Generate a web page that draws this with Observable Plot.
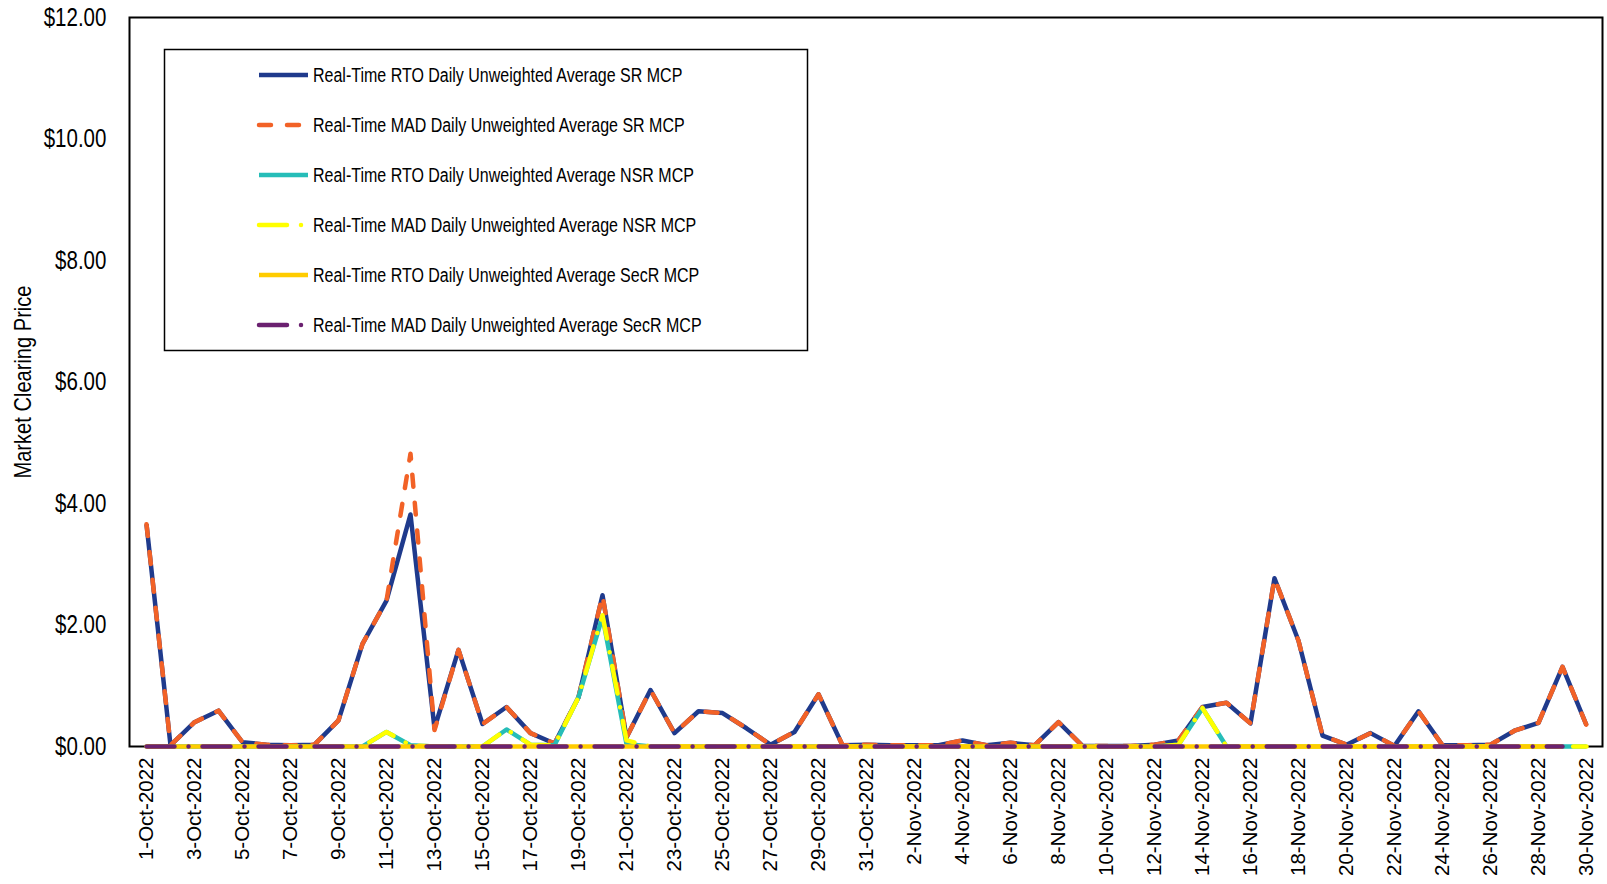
<!DOCTYPE html>
<html><head><meta charset="utf-8">
<script src="https://cdn.jsdelivr.net/npm/d3@7"></script>
<script src="https://cdn.jsdelivr.net/npm/@observablehq/plot@0.6"></script>
<style>
body{margin:0;background:#fff;}
#wrap{position:relative;width:1607px;height:884px;overflow:hidden;background:#fff;}
#overlay{position:absolute;left:0;top:0;pointer-events:none;}
</style></head><body><div id="wrap"></div>
<script>
const REG = '"Liberation Sans",Arial,sans-serif';
const NARROW_SCALE = 0.82;

const dates = [
"1-Oct-2022","2-Oct-2022","3-Oct-2022","4-Oct-2022","5-Oct-2022","6-Oct-2022","7-Oct-2022","8-Oct-2022","9-Oct-2022","10-Oct-2022",
"11-Oct-2022","12-Oct-2022","13-Oct-2022","14-Oct-2022","15-Oct-2022","16-Oct-2022","17-Oct-2022","18-Oct-2022","19-Oct-2022","20-Oct-2022",
"21-Oct-2022","22-Oct-2022","23-Oct-2022","24-Oct-2022","25-Oct-2022","26-Oct-2022","27-Oct-2022","28-Oct-2022","29-Oct-2022","30-Oct-2022",
"31-Oct-2022","1-Nov-2022","2-Nov-2022","3-Nov-2022","4-Nov-2022","5-Nov-2022","6-Nov-2022","7-Nov-2022","8-Nov-2022","9-Nov-2022",
"10-Nov-2022","11-Nov-2022","12-Nov-2022","13-Nov-2022","14-Nov-2022","15-Nov-2022","16-Nov-2022","17-Nov-2022","18-Nov-2022","19-Nov-2022",
"20-Nov-2022","21-Nov-2022","22-Nov-2022","23-Nov-2022","24-Nov-2022","25-Nov-2022","26-Nov-2022","27-Nov-2022","28-Nov-2022","29-Nov-2022",
"30-Nov-2022"];

const rtoSR = [3.66,0.02,0.40,0.59,0.07,0.03,0.02,0.03,0.43,1.69,
2.40,3.82,0.30,1.59,0.37,0.65,0.22,0.05,0.81,2.49,
0.15,0.93,0.22,0.58,0.55,0.30,0.03,0.24,0.86,0.02,
0.03,0.02,0.02,0.02,0.10,0.02,0.06,0.02,0.40,0.01,
0.01,0.01,0.03,0.10,0.65,0.72,0.38,2.77,1.74,0.18,
0.03,0.22,0.01,0.58,0.02,0.02,0.03,0.26,0.39,1.31,
0.35];

const madSR = [3.66,0.02,0.40,0.59,0.07,0.03,0.02,0.03,0.43,1.69,
2.40,4.82,0.27,1.59,0.37,0.65,0.22,0.05,0.81,2.49,
0.15,0.93,0.22,0.58,0.55,0.30,0.03,0.24,0.86,0.02,
0.03,0.02,0.02,0.02,0.10,0.02,0.06,0.02,0.40,0.01,
0.01,0.01,0.03,0.10,0.65,0.72,0.38,2.77,1.74,0.18,
0.03,0.22,0.01,0.58,0.02,0.02,0.03,0.26,0.39,1.31,
0.35];

const rtoNSR = [0,0,0,0,0,0,0,0,0,0,
0.24,0.02,0,0,0,0.28,0.03,0.02,0.81,2.14,
0.04,0,0,0,0,0,0,0,0,0,
0,0,0,0,0,0,0,0,0,0,
0,0,0,0.03,0.63,0,0,0,0,0,
0,0,0,0,0,0,0,0,0,0,
0];

const madNSR = [0,0,0,0,0,0,0,0,0,0,
0.24,0.02,0,0,0,0.28,0.03,0.02,0.81,2.16,
0.10,0,0,0,0,0,0,0,0,0,
0,0,0,0,0,0,0,0,0,0,
0,0,0,0.03,0.63,0,0,0,0,0,
0,0,0,0,0,0,0,0,0,0,
0];

const rtoSecR = [0,0,0,0,0,0,0,0,0,0,
0,0,0,0,0,0,0,0,0,0,
0,0,0,0,0,0,0,0,0,0,
0,0,0,0,0,0,0,0,0,0,
0,0,0,0,0,0,0,0,0,0,
0,0,0,0,0,0,0,0,0,0,
null];

const madSecR = [0,0,0,0,0,0,0,0,0,0,
0,0,0,0,0,0,0,0,0,0,
0,0,0,0,0,0,0,0,0,0,
0,0,0,0,0,0,0,0,0,0,
0,0,0,0,0,0,0,0,0,0,
0,0,0,0,0,0,0,0,0,0,
null];

const yTicks = [0,2,4,6,8,10,12];
const xTickLabels = dates.filter((d,i)=>i%2===0);

const series = [
 {name:"Real-Time RTO Daily Unweighted Average SR MCP", values:rtoSR, color:"#1F3A8C", dash:null},
 {name:"Real-Time MAD Daily Unweighted Average SR MCP", values:madSR, color:"#F26227", dash:"12,16"},
 {name:"Real-Time RTO Daily Unweighted Average NSR MCP", values:rtoNSR, color:"#26BDB8", dash:null},
 {name:"Real-Time MAD Daily Unweighted Average NSR MCP", values:madNSR, color:"#FFFF00", dash:"28,14,0.01,14"},
 {name:"Real-Time RTO Daily Unweighted Average SecR MCP", values:rtoSecR, color:"#FFCC00", dash:null},
 {name:"Real-Time MAD Daily Unweighted Average SecR MCP", values:madSecR, color:"#6B2170", dash:"28,14,0.01,14"}
];

const plot = Plot.plot({
  width:1607, height:884,
  marginLeft:129, marginRight:5, marginTop:17, marginBottom:138,
  style:{background:"#fff", color:"#000", fontFamily:REG},
  x:{type:"point", domain:dates, padding:0.5},
  y:{domain:[0,12]},
  marks:[
    Plot.axisY({ticks:yTicks, tickFormat:d=>"$"+d.toFixed(2), tickSize:0, tickPadding:23, label:null}),
    Plot.axisX({ticks:xTickLabels, tickSize:0, tickPadding:11, tickRotate:-90, label:null}),
    Plot.frame({stroke:"#000", strokeWidth:2}),
    ...series.map(s => Plot.line(dates.map((d,i)=>({d, v:s.values[i]})), {
      x:"d", y:"v", stroke:s.color, strokeWidth:4.5,
      strokeDasharray:s.dash || undefined,
      strokeLinecap:s.dash ? "round" : "butt", strokeLinejoin:"round"
    }))
  ]
});

const wrap = document.getElementById("wrap");
wrap.append(plot);

// y tick labels: Arial-Narrow-like (horizontally condensed Liberation Sans)
const yg = d3.select(plot).select('g[aria-label="y-axis tick label"]');
yg.attr("font-family", REG).attr("font-size", 25);
yg.selectAll("text").attr("font-family", REG).attr("font-size", 25).attr("fill","#000");
const anchorX = 106;
const prevT = yg.attr("transform") || "";
yg.attr("transform", `translate(${anchorX},0) scale(${NARROW_SCALE},1) translate(${-anchorX},0) ${prevT}`);

const xg = d3.select(plot).select('g[aria-label="x-axis tick label"]');
xg.attr("font-family", REG).attr("font-size", 20.5);
xg.selectAll("text").attr("font-family", REG).attr("font-size", 20.5).attr("fill","#000");

// overlay: legend and y title
const ov = d3.select(wrap).append("svg").attr("id","overlay")
  .attr("width",1607).attr("height",884);

ov.append("text")
  .attr("transform",`translate(22.5,382) rotate(-90) scale(${NARROW_SCALE},1)`)
  .attr("text-anchor","middle").attr("dominant-baseline","central")
  .attr("font-family", REG).attr("font-size", 24.5).attr("fill","#000")
  .text("Market Clearing Price");

const lg = ov.append("g");
lg.append("rect").attr("x",164.5).attr("y",49.5).attr("width",643).attr("height",301)
  .attr("fill","#fff").attr("stroke","#000").attr("stroke-width",1.5);
series.forEach((s,k)=>{
  const y = 75 + 50*k;
  lg.append("line").attr("x1",259).attr("x2",308).attr("y1",y).attr("y2",y)
    .attr("stroke",s.color).attr("stroke-width",4.5)
    .attr("stroke-dasharray", s.dash || null)
    .attr("stroke-linecap", s.dash ? "round" : "butt");
  lg.append("text").attr("transform",`translate(313,${y}) scale(0.8,1)`)
    .attr("dominant-baseline","central")
    .attr("font-family", REG).attr("font-size",20).attr("fill","#000")
    .text(s.name);
});
</script></body></html>
